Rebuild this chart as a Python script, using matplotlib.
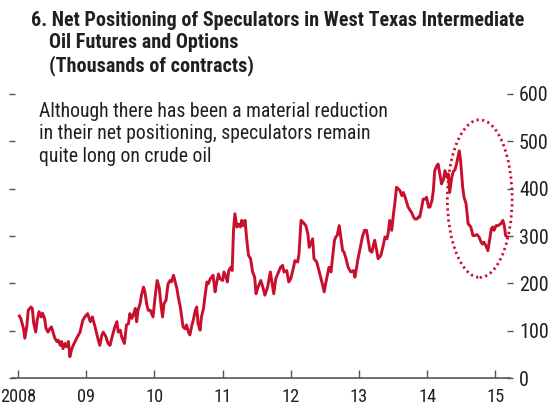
import matplotlib
matplotlib.use('Agg')
import matplotlib.pyplot as plt
from matplotlib.patches import Ellipse

# Net positioning of speculators in WTI futures and options (thousands of contracts)
years = [
    2008.02, 2008.04, 2008.08, 2008.10, 2008.13, 2008.15, 2008.19, 2008.21, 2008.23, 2008.26,
    2008.28, 2008.31, 2008.34, 2008.36, 2008.39, 2008.41, 2008.44, 2008.47, 2008.49, 2008.52,
    2008.54, 2008.57, 2008.59, 2008.62, 2008.64, 2008.66, 2008.69, 2008.71, 2008.74, 2008.76,
    2008.79, 2008.81, 2008.86, 2008.91, 2008.95, 2008.98,
    2009.02, 2009.06, 2009.09, 2009.13, 2009.17, 2009.20, 2009.23, 2009.25, 2009.29, 2009.32,
    2009.35, 2009.38, 2009.42, 2009.45, 2009.47, 2009.50, 2009.52, 2009.56, 2009.59, 2009.62,
    2009.64, 2009.67, 2009.69, 2009.72, 2009.74, 2009.76, 2009.79, 2009.81, 2009.84, 2009.86,
    2009.89, 2009.91, 2009.94, 2009.98,
    2010.01, 2010.04, 2010.07, 2010.10, 2010.12, 2010.14, 2010.17, 2010.20, 2010.23, 2010.25,
    2010.28, 2010.30, 2010.33, 2010.35, 2010.38, 2010.40, 2010.42, 2010.45, 2010.47, 2010.50,
    2010.52, 2010.55, 2010.57, 2010.60, 2010.62, 2010.64, 2010.67, 2010.69, 2010.72, 2010.74,
    2010.77, 2010.79, 2010.82, 2010.84, 2010.86, 2010.89, 2010.91, 2010.94, 2010.96,
    2011.00, 2011.02, 2011.05, 2011.07, 2011.09, 2011.12, 2011.14, 2011.16, 2011.18, 2011.21,
    2011.23, 2011.26, 2011.28, 2011.30, 2011.33, 2011.35, 2011.38, 2011.41, 2011.44, 2011.47,
    2011.49, 2011.52, 2011.56, 2011.59, 2011.62, 2011.66, 2011.70, 2011.72, 2011.75, 2011.78,
    2011.82, 2011.85, 2011.88, 2011.90, 2011.94, 2011.97,
    2012.00, 2012.04, 2012.06, 2012.10, 2012.12, 2012.15, 2012.18, 2012.22, 2012.25, 2012.27,
    2012.30, 2012.32, 2012.34, 2012.38, 2012.40, 2012.43, 2012.45, 2012.49, 2012.51, 2012.54,
    2012.56, 2012.59, 2012.61, 2012.64, 2012.66, 2012.68, 2012.71, 2012.73, 2012.76, 2012.78,
    2012.81, 2012.84, 2012.88, 2012.92, 2012.94, 2012.97, 2012.98,
    2013.01, 2013.05, 2013.08, 2013.11, 2013.14, 2013.16, 2013.19, 2013.21, 2013.23, 2013.26,
    2013.28, 2013.32, 2013.36, 2013.38, 2013.41, 2013.43, 2013.45, 2013.48, 2013.50, 2013.53,
    2013.55, 2013.58, 2013.60, 2013.63, 2013.65, 2013.67, 2013.70, 2013.72, 2013.75, 2013.77,
    2013.80, 2013.82, 2013.85, 2013.87, 2013.89, 2013.92, 2013.94, 2013.97, 2013.99,
    2014.02, 2014.04, 2014.07, 2014.09, 2014.11, 2014.14, 2014.16, 2014.19, 2014.21, 2014.24,
    2014.26, 2014.29, 2014.31, 2014.33, 2014.36, 2014.38, 2014.41, 2014.43, 2014.46, 2014.47,
    2014.49, 2014.52, 2014.54, 2014.57, 2014.60, 2014.64, 2014.67, 2014.70, 2014.73, 2014.76,
    2014.79, 2014.81, 2014.83, 2014.86, 2014.89, 2014.91, 2014.94, 2014.96, 2014.98,
    2015.01, 2015.04, 2015.08, 2015.11, 2015.13, 2015.15, 2015.17,
]
positions = [
    131, 126, 105, 84, 110, 143, 150, 147, 116, 97,
    122, 140, 129, 137, 126, 105, 97, 105, 108, 94,
    84, 77, 80, 69, 77, 62, 73, 66, 77, 45,
    62, 69, 84, 97, 122, 129,
    136, 119, 129, 108, 84, 69, 91, 97, 87, 73,
    69, 87, 108, 119, 97, 101, 87, 73, 112, 115,
    136, 126, 133, 147, 119, 143, 157, 175, 192, 182,
    154, 143, 143, 129,
    171, 206, 192, 150, 129, 157, 164, 199, 206, 203,
    217, 206, 189, 171, 150, 129, 108, 104, 112, 97,
    91, 112, 122, 143, 150, 115, 101, 129, 147, 171,
    203, 199, 210, 213, 217, 182, 199, 220, 210,
    206, 224, 213, 203, 227, 234, 227, 312, 347, 319,
    325, 319, 333, 322, 333, 298, 259, 252, 224, 213,
    178, 192, 206, 192, 175, 192, 224, 206, 178, 210,
    224, 234, 238, 224, 227, 203,
    210, 234, 248, 245, 262, 333, 329, 322, 305, 276,
    287, 294, 252, 245, 234, 217, 206, 182, 199, 220,
    234, 224, 252, 291, 298, 301, 322, 301, 269, 266,
    252, 234, 224, 227, 213, 238, 248,
    269, 298, 312, 312, 287, 269, 266, 280, 291, 269,
    252, 259, 283, 298, 294, 308, 333, 312, 340, 375,
    403, 399, 396, 385, 392, 385, 371, 361, 354, 350,
    340, 336, 336, 340, 340, 361, 378, 378, 382,
    361, 361, 375, 396, 438, 448, 452, 427, 410, 420,
    438, 424, 431, 392, 424, 435, 441, 452, 473, 480,
    459, 403, 382, 368, 326, 319, 301, 301, 303, 298,
    287, 283, 287, 280, 269, 287, 315, 319, 312,
    322, 322, 326, 333, 322, 301, 298,
]

xtick_years = [2008, 2009, 2010, 2011, 2012, 2013, 2014, 2015]
xtick_labels = ['2008', '09', '10', '11', '12', '13', '14', '15']
ytick_vals = [0, 100, 200, 300, 400, 500, 600]

title_lines = ['6. Net Positioning of Speculators in West Texas Intermediate',
               'Oil Futures and Options',
               '(Thousands of contracts)']
note = ('Although there has been a material reduction\n'
        'in their net positioning, speculators remain\n'
        'quite long on crude oil')

red = '#c8102e'
dark = '#231f20'
narrow = ['Roboto Condensed', 'Barlow Semi Condensed', 'DejaVu Sans']

W, H = 550, 409
fig = plt.figure(figsize=(5.5, 4.09), dpi=100)
ax = fig.add_axes([12 / W, 1 - 378 / H, 498 / W, 284 / H])

ax.plot(years, positions, color=red, lw=2.1, solid_joinstyle='round')

# dotted ellipse around the recent drop
ell = Ellipse((2014.77, 379), 0.95, 333, fill=False, edgecolor=red,
              lw=2.0, linestyle=(0, (0.8, 1.2)), clip_on=False)
ax.add_patch(ell)

ax.set_xlim(2007.912, 2015.214)
ax.set_ylim(0, 600)

for s in ['top', 'left', 'right']:
    ax.spines[s].set_visible(False)
ax.spines['bottom'].set_color('#555555')
ax.spines['bottom'].set_linewidth(1.2)

ax.set_xticks(xtick_years)
ax.set_xticklabels(xtick_labels, family=narrow, fontsize=13.2, color=dark)
ax.tick_params(axis='x', direction='in', length=6, width=1, color='#555555', pad=7)

ax.set_yticks(ytick_vals)
ax.set_yticklabels([str(v) for v in ytick_vals], family=narrow, fontsize=14.5, color=dark)
ax.tick_params(axis='y', which='both', left=True, right=True, labelleft=False, labelright=True,
               direction='inout', length=5, width=1, color='#555555', pad=4)

t1 = fig.text(31 / W, 1 - 20 / H, title_lines[0], family=narrow, fontsize=13,
              fontweight='bold', color=dark, va='center')
t2 = fig.text(49 / W, 1 - 43 / H, title_lines[1], family=narrow, fontsize=13,
              fontweight='bold', color=dark, va='center')
t3 = fig.text(49 / W, 1 - 66 / H, title_lines[2], family=narrow, fontsize=13,
              fontweight='bold', color=dark, va='center')
tn = fig.text(39 / W, 1 - 102 / H, note, family=narrow, fontsize=13, color=dark,
              va='top', linespacing=1.23)

# scale title and note so their widths match the reference
fig.canvas.draw()
r = fig.canvas.get_renderer()
k = 490 / t1.get_window_extent(r).width
for t in (t1, t2, t3):
    t.set_fontsize(13 * k)
lines = note.split('\n')
probe = fig.text(0, 0, lines[0], family=narrow, fontsize=13)
kn = 348 / probe.get_window_extent(r).width
probe.remove()
tn.set_fontsize(13 * kn)

fig.savefig('out.png', dpi=100)
